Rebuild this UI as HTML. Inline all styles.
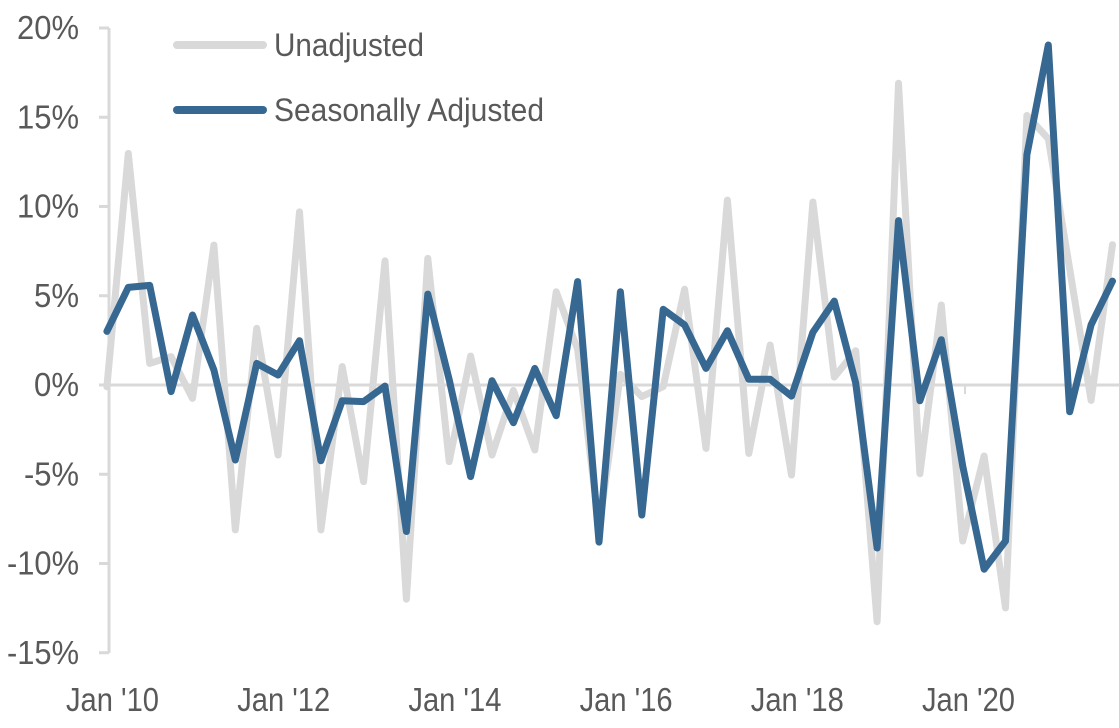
<!DOCTYPE html>
<html>
<head>
<meta charset="utf-8">
<style>
html,body{margin:0;padding:0;background:#fff;}
svg{display:block;}
text{font-family:"Liberation Sans",Arial,sans-serif;fill:#595959;}
</style>
</head>
<body>
<svg width="1119" height="728" viewBox="0 0 1119 728" xmlns="http://www.w3.org/2000/svg">
  <!-- axes -->
  <g stroke="#d9d9d9" stroke-width="3" fill="none">
    <line x1="109" y1="28" x2="109" y2="653"/>
    <line x1="99" y1="28" x2="109" y2="28"/>
    <line x1="99" y1="117.25" x2="109" y2="117.25"/>
    <line x1="99" y1="206.5" x2="109" y2="206.5"/>
    <line x1="99" y1="295.75" x2="109" y2="295.75"/>
    <line x1="99" y1="385" x2="1119" y2="385"/>
    <line x1="99" y1="474.25" x2="109" y2="474.25"/>
    <line x1="99" y1="563.5" x2="109" y2="563.5"/>
    <line x1="99" y1="652.75" x2="109" y2="652.75"/>
  </g>
  <line x1="965" y1="385" x2="965" y2="394" stroke="#d9d9d9" stroke-width="2"/>

  <!-- y labels -->
  <g font-size="33" text-anchor="end">
    <text x="79" y="39" textLength="62" lengthAdjust="spacingAndGlyphs">20%</text>
    <text x="79" y="128.25" textLength="62" lengthAdjust="spacingAndGlyphs">15%</text>
    <text x="79" y="217.5" textLength="62" lengthAdjust="spacingAndGlyphs">10%</text>
    <text x="79" y="306.75" textLength="45" lengthAdjust="spacingAndGlyphs">5%</text>
    <text x="79" y="396" textLength="45" lengthAdjust="spacingAndGlyphs">0%</text>
    <text x="79" y="485.25" textLength="55" lengthAdjust="spacingAndGlyphs">-5%</text>
    <text x="79" y="574.5" textLength="72" lengthAdjust="spacingAndGlyphs">-10%</text>
    <text x="79" y="663.75" textLength="72" lengthAdjust="spacingAndGlyphs">-15%</text>
  </g>

  <!-- x labels -->
  <g font-size="33">
    <text x="66" y="711" textLength="93" lengthAdjust="spacingAndGlyphs">Jan '10</text>
    <text x="237.2" y="711" textLength="93" lengthAdjust="spacingAndGlyphs">Jan '12</text>
    <text x="408.4" y="711" textLength="93" lengthAdjust="spacingAndGlyphs">Jan '14</text>
    <text x="579.6" y="711" textLength="93" lengthAdjust="spacingAndGlyphs">Jan '16</text>
    <text x="750.8" y="711" textLength="93" lengthAdjust="spacingAndGlyphs">Jan '18</text>
    <text x="922" y="711" textLength="93" lengthAdjust="spacingAndGlyphs">Jan '20</text>
  </g>

  <!-- Unadjusted series -->
  <polyline fill="none" stroke="#d9d9d9" stroke-width="7" stroke-linejoin="round" stroke-linecap="round"
    points="106.9,386.8 128.3,153.5 149.7,363.4 171.1,356.6 192.5,398.4 213.9,245.1 235.3,529.9 256.7,328.4 278.1,455.0 299.5,211.9 320.9,529.9 342.2,366.6 363.6,481.6 385.0,260.8 406.4,599.2 427.8,258.4 449.2,461.6 470.6,356.1 492.0,455.0 513.4,390.4 534.8,450.0 556.2,291.8 577.6,349.3 599.0,527.8 620.4,374.3 641.8,396.6 663.2,386.6 684.6,289.3 706.0,448.4 727.4,200.1 748.8,453.4 770.1,345.0 791.5,475.0 812.9,202.0 834.3,377.1 855.7,350.7 877.1,621.7 898.5,83.3 919.9,473.7 941.3,305.0 962.7,541.0 984.1,456.0 1005.5,607.9 1026.9,115.5 1048.3,138.7 1069.7,269.0 1091.1,400.4 1112.5,244.7"/>

  <!-- Seasonally Adjusted series -->
  <polyline fill="none" stroke="#376892" stroke-width="7" stroke-linejoin="round" stroke-linecap="round"
    points="106.9,331.4 128.3,287.4 149.7,285.4 171.1,391.6 192.5,315.0 213.9,370.0 235.3,460.0 256.7,363.4 278.1,375.0 299.5,340.7 320.9,460.7 342.2,400.7 363.6,401.6 385.0,386.1 406.4,531.5 427.8,294.1 449.2,379.6 470.6,476.6 492.0,380.7 513.4,422.7 534.8,368.4 556.2,415.7 577.6,281.6 599.0,542.1 620.4,291.8 641.8,515.0 663.2,309.3 684.6,325.0 706.0,368.4 727.4,330.7 748.8,379.3 770.1,379.3 791.5,396.1 812.9,332.3 834.3,301.1 855.7,383.0 877.1,548.0 898.5,220.6 919.9,400.7 941.3,339.7 962.7,466.0 984.1,569.2 1005.5,541.0 1026.9,154.7 1048.3,45.0 1069.7,411.8 1091.1,324.8 1112.5,281.1"/>

  <!-- legend -->
  <line x1="177" y1="45" x2="263" y2="45" stroke="#d9d9d9" stroke-width="8" stroke-linecap="round"/>
  <line x1="177" y1="110" x2="263" y2="110" stroke="#376892" stroke-width="8" stroke-linecap="round"/>
  <g font-size="32">
    <text x="274" y="56" textLength="150" lengthAdjust="spacingAndGlyphs">Unadjusted</text>
    <text x="274" y="121" textLength="270" lengthAdjust="spacingAndGlyphs">Seasonally Adjusted</text>
  </g>
</svg>
</body>
</html>
